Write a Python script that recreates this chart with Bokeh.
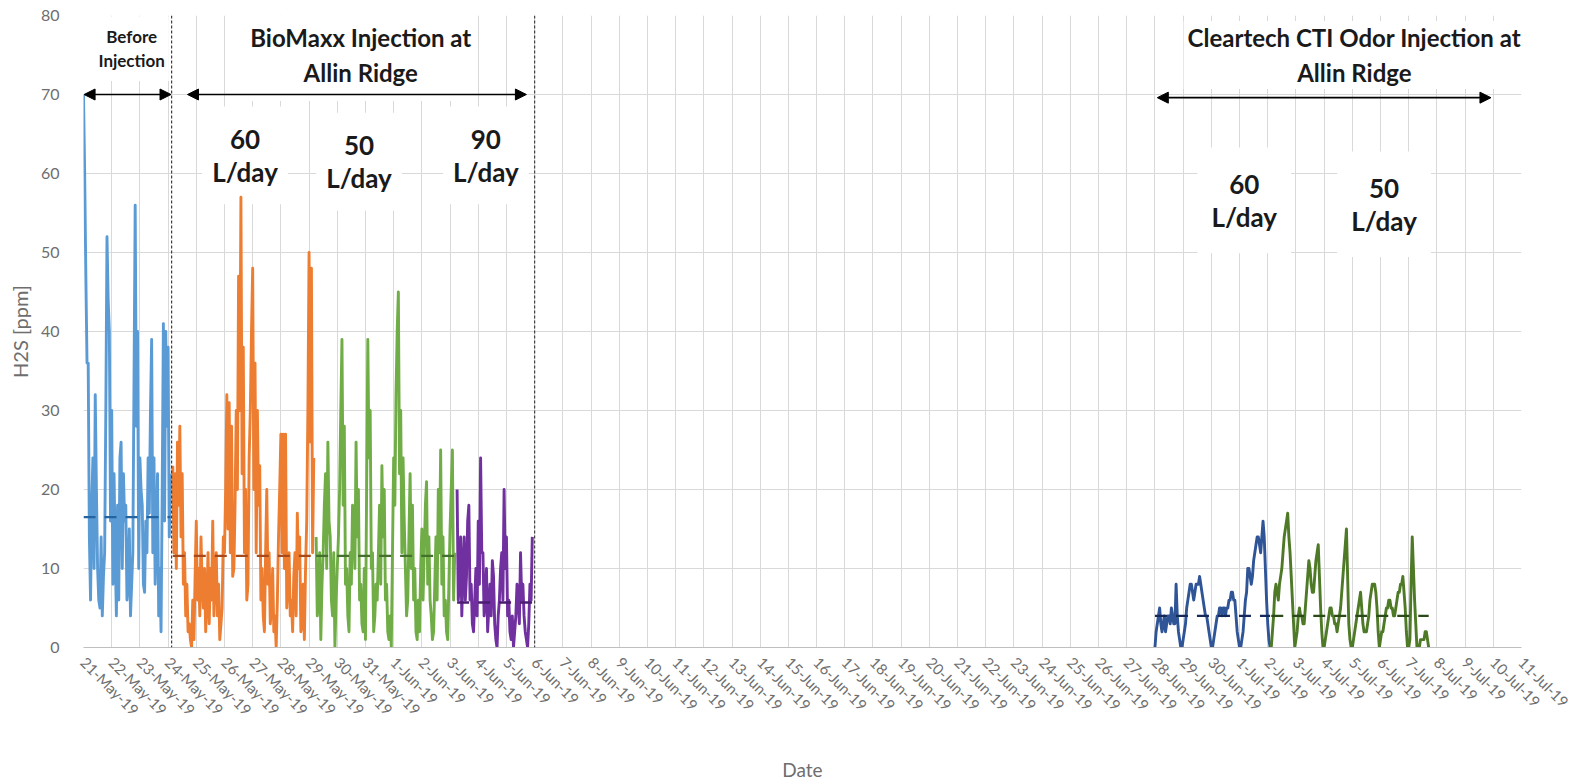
import math
import pandas as pd
from bokeh.plotting import figure
from bokeh.models import FixedTicker, Range1d, Label, Arrow, NormalHead, Span
from bokeh.embed import file_html
from bokeh.resources import INLINE

# ---------------- data ----------------
AXIS_START = "2019-05-21"
AXIS_END = "2019-07-11"
STEP = "1h"

tick_dates = pd.date_range(AXIS_START, AXIS_END, freq="D")
tick_labels = [d.strftime("%-d-%b-%y") for d in tick_dates]
y_ticks = [0, 10, 20, 30, 40, 50, 60, 70, 80]

before_start = "2019-05-21 00:00"
before_h2s = [70, 60, 47, 36, 36, 14, 6, 18, 24, 10,
              32, 20, 10, 6, 5, 14, 4, 9, 12, 30,
              52, 44, 40, 16, 30, 8, 22, 12, 4, 18,
              6, 24, 26, 10, 22, 16, 18, 6, 8, 15,
              4, 8, 12, 34, 56, 28, 40, 10, 24, 20,
              18, 8, 7, 16, 12, 24, 17, 30, 39, 12,
              24, 8, 14, 22, 4, 10, 2, 20, 41, 16,
              40, 28, 38, 14, 22]

bio60_start = "2019-05-24 04:00"
bio60_h2s = [23, 12, 22, 10, 26, 18, 28, 14, 22, 8,
             12, 4, 8, 2, 3, 1, 0, 6, 1, 9,
             16, 6, 10, 4, 14, 8, 5, 10, 2, 6,
             12, 3, 10, 6, 16, 4, 9, 12, 4, 8,
             1, 3, 5, 14, 12, 20, 32, 15, 31, 12,
             28, 9, 10, 18, 30, 20, 47, 30, 57, 22,
             38, 12, 20, 6, 8, 24, 30, 40, 48, 20,
             36, 12, 30, 18, 23, 6, 10, 4, 2, 12,
             20, 8, 12, 3, 5, 10, 2, 4, 0, 6,
             14, 20, 27, 12, 27, 10, 27, 5, 8, 12,
             4, 6, 2, 9, 12, 4, 17, 10, 14, 2,
             3, 8, 1, 10, 16, 30, 50, 26, 48, 12,
             24]

bio50_start = "2019-05-29 06:00"
bio50_h2s = [14, 4, 6, 12, 1, 8, 12, 18, 22, 10,
             26, 16, 14, 6, 4, 12, 0, 6, 10, 14,
             20, 30, 39, 18, 28, 8, 10, 4, 2, 12,
             8, 18, 16, 10, 26, 14, 20, 6, 8, 3,
             2, 10, 1, 20, 39, 24, 30, 10, 12, 2,
             4, 8, 6, 12, 18, 8, 23, 14, 20, 6,
             8, 2, 1, 4, 0, 12, 24, 18, 32, 40,
             45, 22, 30, 12, 24, 16, 10, 4, 6, 14,
             22, 10, 18, 6, 10, 2, 1, 6, 2, 10,
             15, 6, 12, 18, 21, 8, 14, 6, 4, 1,
             2, 8, 14, 6, 20, 12, 25, 8, 14, 4,
             6, 2, 1, 8, 15, 20, 25, 6, 12]

bio90_start = "2019-06-03 06:00"
bio90_h2s = [20, 6, 8, 14, 4, 10, 14, 6, 9, 16,
             18, 6, 8, 3, 2, 6, 10, 4, 16, 8,
             24, 12, 12, 4, 6, 10, 2, 5, 8, 4,
             11, 9, 3, 1, 0, 4, 6, 10, 12, 6,
             20, 10, 14, 4, 6, 2, 1, 4, 0, 2,
             4, 8, 6, 3, 12, 6, 8, 4, 2, 1,
             0, 3, 8, 6, 14]

cti60_start = "2019-06-28 00:00"
cti60_h2s = [0, 2, 3, 4, 5, 3, 2, 3, 4, 2,
             3, 4, 4, 3, 5, 4, 3, 3, 8, 4,
             2, 1, 0, 0, 1, 2, 3, 5, 6, 7,
             8, 8, 7, 6, 7, 8, 8, 8, 9, 8,
             7, 6, 5, 4, 4, 3, 2, 1, 0, 0,
             1, 2, 3, 4, 4, 5, 5, 4, 5, 5,
             4, 5, 5, 6, 6, 7, 7, 6, 6, 4,
             2, 1, 0, 0, 1, 2, 4, 6, 7, 10,
             10, 9, 8, 9, 11, 12, 13, 14, 14, 13,
             12, 14, 16, 14, 10, 6, 3, 1, 0]

cti50_start = "2019-07-02 03:00"
cti50_h2s = [0, 2, 4, 7, 8, 7, 6, 8, 9, 10,
             12, 14, 15, 16, 17, 14, 12, 9, 6, 3,
             0, 1, 2, 4, 5, 4, 4, 3, 3, 5,
             7, 9, 11, 10, 8, 7, 7, 9, 11, 12,
             13, 9, 5, 2, 0, 0, 1, 2, 3, 4,
             5, 5, 4, 4, 3, 3, 2, 3, 4, 5,
             7, 9, 11, 13, 15, 9, 3, 1, 0, 0,
             1, 2, 3, 4, 5, 6, 7, 5, 3, 2,
             2, 2, 3, 4, 6, 7, 8, 8, 8, 7,
             5, 2, 0, 1, 2, 2, 3, 4, 5, 5,
             6, 6, 5, 5, 4, 4, 5, 6, 7, 7,
             8, 8, 9, 7, 5, 2, 0, 0, 1, 8,
             14, 10, 6, 3, 0, 0, 0, 1, 1, 1,
             1, 2, 2, 1, 0]

series_starts = [before_start, bio60_start, bio50_start, bio90_start, cti60_start, cti50_start]
series_values = [before_h2s, bio60_h2s, bio50_h2s, bio90_h2s, cti60_h2s, cti50_h2s]
series_means = [16.5, 11.6, 11.6, 5.7, 4.0, 4.0]
series_colors = ["#5B9BD5", "#ED7D31", "#70AD47", "#7030A0", "#2F5597", "#4E7A28"]
mean_colors = ["#2464A0", "#A8491A", "#44702E", "#4A1C72", "#14285A", "#2A4A17"]

phase_bounds = ["2019-05-24 03:00", "2019-06-06 00:00"]

arrow_spans = [("2019-05-21 00:30", "2019-05-24 02:30", 70.0),
               ("2019-05-24 16:30", "2019-06-05 17:00", 70.0),
               ("2019-06-28 02:00", "2019-07-09 22:00", 69.6)]

# text, centre time, centre value, font px, line height, padding
notes = [("Before\nInjection", "2019-05-22 17:00", 75.8, 17, 1.12, (4, 10)),
         ("BioMaxx Injection at\nAllin Ridge", "2019-05-30 20:00", 75.0, 24, 1.2, (4, 14)),
         ("60\nL/day", "2019-05-26 17:30", 62.3, 26, 1.05, (10, 16)),
         ("50\nL/day", "2019-05-30 18:30", 61.5, 26, 1.05, (10, 16)),
         ("90\nL/day", "2019-06-04 06:30", 62.3, 26, 1.05, (10, 16)),
         ("Cleartech CTI Odor Injection at\nAllin Ridge", "2019-07-05 01:45", 75.0, 24, 1.2, (4, 2)),
         ("60\nL/day", "2019-07-01 04:00", 56.6, 26, 1.05, (14, 20)),
         ("50\nL/day", "2019-07-06 03:00", 56.1, 26, 1.05, (14, 20))]

# ---------------- helpers ----------------
t0 = pd.Timestamp(AXIS_START)
DAY = pd.Timedelta(days=1)


def to_day(ts):
    return (pd.Timestamp(ts) - t0) / DAY


# ---------------- figure ----------------
FONT = "Lato"
GRAY = "#6E6E6E"

p = figure(width=1585, height=784, output_backend="svg", toolbar_location=None,
           x_range=Range1d(0, len(tick_labels) - 1), y_range=Range1d(0, 80),
           min_border_left=83, min_border_right=64, min_border_top=15,
           min_border_bottom=136)
p.outline_line_color = None
p.background_fill_color = "white"

xt = list(range(len(tick_labels)))
p.xaxis.ticker = FixedTicker(ticks=xt)
p.xaxis.major_label_overrides = {i: lab for i, lab in zip(xt, tick_labels)}
p.xaxis.major_label_orientation = -math.pi / 4
p.xaxis.major_label_text_font = FONT
p.xaxis.major_label_text_font_size = "15px"
p.xaxis.major_label_text_color = GRAY
p.xaxis.major_label_standoff = 6
p.xaxis.major_tick_line_color = None
p.xaxis.minor_tick_line_color = None
p.xaxis.axis_line_color = "#BFBFBF"
p.xaxis.axis_label = "Date"
p.xaxis.axis_label_text_font = FONT
p.xaxis.axis_label_text_font_style = "normal"
p.xaxis.axis_label_text_font_size = "19px"
p.xaxis.axis_label_text_color = GRAY
p.xaxis.axis_label_standoff = 30

p.yaxis.ticker = FixedTicker(ticks=y_ticks)
p.yaxis.major_label_text_font = FONT
p.yaxis.major_label_text_font_size = "16px"
p.yaxis.major_label_text_color = GRAY
p.yaxis.major_label_standoff = 18
p.yaxis.major_tick_line_color = None
p.yaxis.minor_tick_line_color = None
p.yaxis.axis_line_color = None
p.yaxis.axis_label = "H2S [ppm]"
p.yaxis.axis_label_text_font = FONT
p.yaxis.axis_label_text_font_style = "normal"
p.yaxis.axis_label_text_font_size = "20px"
p.yaxis.axis_label_text_color = GRAY
p.yaxis.axis_label_standoff = 6

p.xgrid.grid_line_color = "#D9D9D9"
p.ygrid.grid_line_color = "#D9D9D9"
p.xgrid.grid_line_width = 1
p.ygrid.grid_line_width = 1

# text boxes (white boxes hide the grid, drawn beneath the data)
for text, ts, yv, fs, lh, pad in notes:
    p.add_layout(Label(x=to_day(ts), y=yv, text=text, text_align="center",
                       text_baseline="middle", text_font=FONT, text_font_style="bold",
                       text_font_size=f"{fs}px", text_color="#1A1A1A", text_line_height=lh,
                       background_fill_color="white", padding=pad, level="underlay"))

# series
for start, vals, col in zip(series_starts, series_values, series_colors):
    times = pd.date_range(start, periods=len(vals), freq=STEP)
    xs = list((times - t0) / DAY)
    p.line(xs, vals, line_color=col, line_width=2.9, line_join="round")

# mean lines
for start, vals, m, mc in zip(series_starts, series_values, series_means, mean_colors):
    times = pd.date_range(start, periods=len(vals), freq=STEP)
    xs = list((times - t0) / DAY)
    p.line([xs[0], xs[-1]], [m, m], line_color=mc, line_width=2.4, line_dash="12 9")

# phase boundaries
for b in phase_bounds:
    p.add_layout(Span(location=to_day(b), dimension="height", line_color="#404040",
                      line_width=1.2, line_dash="3 2"))

# arrows
for a, b, yv in arrow_spans:
    p.add_layout(Arrow(x_start=to_day(a), y_start=yv, x_end=to_day(b), y_end=yv,
                       line_color="black", line_width=1.6,
                       start=NormalHead(size=11, fill_color="black", line_color="black"),
                       end=NormalHead(size=11, fill_color="black", line_color="black")))

open("out.html", "w").write(file_html(p, INLINE))
